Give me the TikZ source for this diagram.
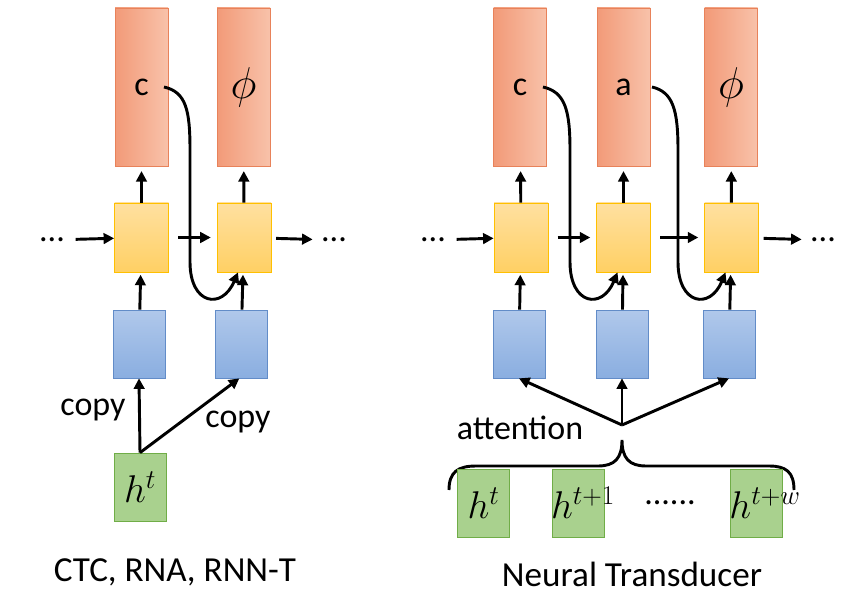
\RequirePackage{fix-cm}
\documentclass[tikz,border=0pt]{standalone}
\usepackage{fontspec}
\setmainfont{Carlito}
\usetikzlibrary{arrows.meta}

\definecolor{outL}{RGB}{242,154,120}
\definecolor{outR}{RGB}{248,194,170}
\definecolor{outB}{RGB}{232,130,90}
\definecolor{decT}{RGB}{255,224,160}
\definecolor{decB}{RGB}{255,208,100}
\definecolor{decD}{RGB}{255,192,0}
\definecolor{encT}{RGB}{176,200,235}
\definecolor{encB}{RGB}{138,174,224}
\definecolor{encD}{RGB}{98,140,200}
\definecolor{hidF}{RGB}{169,209,142}
\definecolor{hidD}{RGB}{112,173,71}

\begin{document}
\begin{tikzpicture}[x=0.03cm, y=-0.03cm, line width=2.5pt,
    >={Triangle[length=9pt,width=9pt]},
    every node/.style={inner sep=0pt, font=\fontsize{29}{34}\selectfont},
    capt/.style={font=\fontsize{30}{36}\selectfont},
    mlab/.style={font=\fontsize{33}{38}\selectfont},
    plab/.style={font=\fontsize{38}{44}\selectfont},
    outbox/.style={draw=outB, left color=outL, right color=outR, line width=0.6pt,
        minimum width=1.59cm, minimum height=4.74cm},
    decbox/.style={draw=decD, top color=decT, bottom color=decB, line width=0.6pt,
        minimum width=1.62cm, minimum height=2.07cm},
    encbox/.style={draw=encD, top color=encT, bottom color=encB, line width=0.6pt,
        minimum width=1.56cm, minimum height=2.04cm},
    hidbox/.style={draw=hidD, fill=hidF, line width=0.6pt,
        minimum width=1.56cm, minimum height=2.04cm}]
    \useasboundingbox (0,0) rectangle (868,594);

    % CTC, RNA, RNN-T
    \node[outbox] (lR1) at (141.5,87) {c};
    \node[outbox, plab] (lR2) at (243.5,87) {$\phi$};
    \node[decbox] (lY1) at (141.5,237.5) {};
    \node[decbox] (lY2) at (244,237.5) {};
    \node[encbox] (lB1) at (139,344) {};
    \node[encbox] (lB2) at (241,344) {};
    \node[hidbox, mlab] (lG) at (140,487) {$h^t$};
    \node (ldl) at (52,240) {...};
    \node (ldr) at (334,240) {...};

    \draw[->, shorten >=4pt] (lY1) -- (lR1);
    \draw[->, shorten >=4pt] (lY2) -- (lR2);
    \draw[->, shorten >=2pt] (lB1) -- (lY1);
    \draw[->, shorten >=2pt] (lB2) -- (lY2);
    \draw[->, shorten <=8pt] (ldl) -- (lY1);
    \draw[->, shorten <=8pt, shorten >=5pt] (lY1) -- (lY2);
    \draw[->, shorten <=4pt, shorten >=6pt] (lY2) -- (ldr);
    \draw[->] (164,87) .. controls (186,92) and (190,110) .. (190,150) -- (190,262)
        .. controls (190,305) and (222,310) .. ([xshift=-0.18cm]lY2.south);

    % copy
    \draw[->] (lG.north) -- (lB1.south);
    \draw[->] (lG.north) -- ([xshift=-0.05cm]lB2.south);
    \node (lc1) at (93,410) {copy};
    \node (lc2) at (238,422) {copy};
    \node[capt] (lcap) at (175,572) {CTC, RNA, RNN-T};

    % Neural Transducer
    \node[outbox] (rR1) at (520,87) {c};
    \node[outbox] (rR2) at (623.5,87) {a};
    \node[outbox, plab] (rR3) at (731,87) {$\phi$};
    \node[decbox] (rY1) at (521,237.5) {};
    \node[decbox] (rY2) at (623.5,237.5) {};
    \node[decbox] (rY3) at (731.5,237.5) {};
    \node[encbox] (rB1) at (519,344) {};
    \node[encbox] (rB2) at (622,344) {};
    \node[encbox] (rB3) at (729,344) {};
    \node (rdl) at (433,240) {...};
    \node (rdr) at (823,240) {...};

    \foreach \i in {1,2,3} {
        \draw[->, shorten >=4pt] (rY\i) -- (rR\i);
        \draw[->, shorten >=2pt] (rB\i) -- (rY\i);
    }
    \draw[->, shorten <=8pt] (rdl) -- (rY1);
    \draw[->, shorten <=8pt, shorten >=5pt] (rY1) -- (rY2);
    \draw[->, shorten <=8pt, shorten >=5pt] (rY2) -- (rY3);
    \draw[->, shorten <=4pt, shorten >=6pt] (rY3) -- (rdr);
    \draw[->] (543,87) .. controls (565,92) and (570,110) .. (570,150) -- (570,262)
        .. controls (570,305) and (602,310) .. ([xshift=-0.18cm]rY2.south);
    \draw[->] (652,87) .. controls (673,92) and (678,110) .. (678,150) -- (678,262)
        .. controls (678,305) and (710,310) .. ([xshift=-0.18cm]rY3.south);

    % attention over the window
    \coordinate (att) at (622,425);
    \coordinate (tip) at (622,440);
    \foreach \i in {1,2,3}
        \draw[->] (att) -- (rB\i.south);
    \node (ratt) at (520,428) {attention};
    \draw (449,490) .. controls (449,472) and (458,466) .. (476,466) -- (598,466)
        .. controls (615,466) and (622,458) .. (tip)
        .. controls (622,458) and (629,466) .. (646,466) -- (769,466)
        .. controls (786,466) and (794,472) .. (794,490);

    \node[hidbox] (rG1) at (483.5,503) {};
    \node[hidbox] (rG2) at (578,503) {};
    \node[hidbox] (rG3) at (756,503) {};
    \node[mlab] (rh1) at (rG1) {$h^t$};
    \node[mlab] (rh2) at ([xshift=0.15cm]rG2) {$h^{t+1}$};
    \node[mlab] (rh3) at ([xshift=0.27cm]rG3) {$h^{t+w}$};
    \node (rdots) at (670,503) {......};
    \node[capt] (rcap) at (632,574) {Neural Transducer};
\end{tikzpicture}
\end{document}
